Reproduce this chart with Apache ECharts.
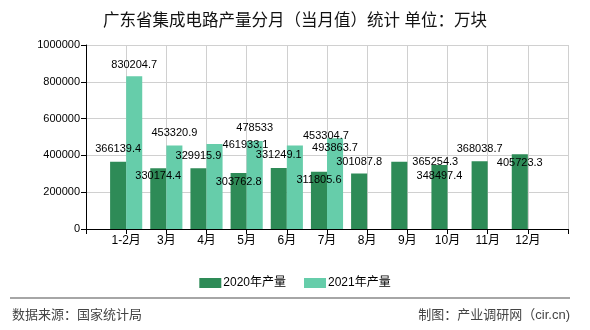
<!DOCTYPE html>
<html>
<head>
<meta charset="utf-8">
<script src="https://cdn.jsdelivr.net/npm/echarts@6/dist/echarts.min.js"></script>
<style>
html,body{margin:0;padding:0;background:#fff;}
#chart{width:590px;height:330px;}
</style>
</head>
<body>
<div id="chart"></div>
<script>
const categories = ['1-2月','3月','4月','5月','6月','7月','8月','9月','10月','11月','12月'];
const values2020 = [366139.4, 330174.4, 329915.9, 303762.8, 331249.1, 311805.6, 301087.8, 365254.3, 348497.4, 368038.7, 405723.3];
const values2021 = [830204.7, 453320.9, 461933.1, 478533, 453304.7, 493863.7, null, null, null, null, null];
const yTicks = [0, 200000, 400000, 600000, 800000, 1000000];
const seriesNames = ['2020年产量', '2021年产量'];

// label offsets (styling only): [dx, dy] of label centre from bar top centre
const labelOffsets = [
  [[0,-13],[0,8],[0,-12],[0,9],[0,-13],[0,8],[0,-12],[36,0],[0,11],[0,-12],[0,9]],
  [[0,-11],[0,-13],[31,1],[0,-13],[31,-10],[0,10]]
];

const axisCats = [''].concat(categories, ['']);
const pad = arr => [null].concat(arr, [null]);
const font = '"Liberation Sans", "Noto Sans CJK SC", sans-serif';

const chart = echarts.init(document.getElementById('chart'));
chart.setOption({
  animation: false,
  textStyle: { fontFamily: font },
  title: {
    text: '广东省集成电路产量分月（当月值）统计 单位：万块',
    left: 'center', top: 8,
    textStyle: { fontSize: 16.5, fontWeight: 'normal', color: '#111', fontFamily: font }
  },
  legend: {
    data: seriesNames,
    left: 'center', top: 272,
    itemWidth: 22, itemHeight: 10, itemGap: 18,
    icon: 'rect',
    textStyle: { fontSize: 12, color: '#000', padding: [0,0,0,-3] }
  },
  grid: { left: 86, right: 22, top: 45, bottom: 101 },
  xAxis: {
    type: 'category',
    data: axisCats,
    boundaryGap: false,
    axisLine: { lineStyle: { color: '#000' } },
    axisTick: { show: true, length: 5, lineStyle: { color: '#000' } },
    axisLabel: { color: '#000', fontSize: 12, margin: 6, interval: 0 },
    splitLine: { show: true, lineStyle: { color: '#d0d0d0' } }
  },
  yAxis: {
    type: 'value',
    min: yTicks[0], max: yTicks[yTicks.length-1], interval: yTicks[1]-yTicks[0],
    axisLine: { show: true, lineStyle: { color: '#000' } },
    axisTick: { show: true, length: 5, lineStyle: { color: '#000' } },
    axisLabel: { color: '#000', fontSize: 11, margin: 6, formatter: v => String(v) },
    splitLine: { show: true, lineStyle: { color: '#d0d0d0' } }
  },
  series: [
    {
      name: seriesNames[0], type: 'bar', data: pad(values2020),
      barGap: '0%', barCategoryGap: '20%',
      itemStyle: { color: '#2E8B57' },
      label: { show: true, position: 'top', color: '#000', fontSize: 11 }
    },
    {
      name: seriesNames[1], type: 'bar', data: pad(values2021),
      barGap: '0%', barCategoryGap: '20%',
      itemStyle: { color: '#66CDAA' },
      label: { show: true, position: 'top', color: '#000', fontSize: 11 }
    }
  ],
  labelLayout: function (p) {
    const offs = labelOffsets[p.seriesIndex][p.dataIndex - 1] || [0, -11];
    const r = p.rect;
    const top = Math.min(r.y, r.y + r.height);
    return {
      x: r.x + r.width / 2 + offs[0],
      y: top + offs[1],
      align: 'center',
      verticalAlign: 'middle'
    };
  },
  graphic: [
    { type: 'line', shape: { x1: 10, y1: 298, x2: 570, y2: 298 }, style: { stroke: '#888', lineWidth: 1.5 } },
    { type: 'text', left: 12, top: 309, style: { text: '数据来源：国家统计局', fill: '#444', font: '13px ' + font } },
    { type: 'text', right: 20, top: 309, style: { text: '制图：产业调研网（cir.cn)', fill: '#444', font: '13px ' + font } }
  ]
});
</script>
</body>
</html>
